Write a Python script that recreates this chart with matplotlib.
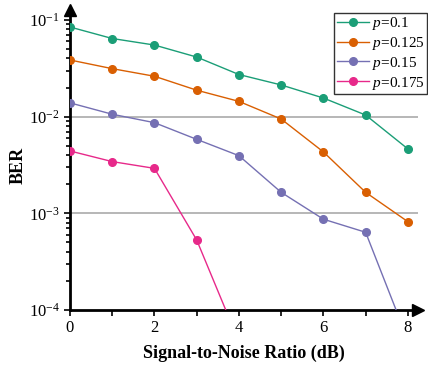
import numpy as np
import matplotlib.pyplot as plt
from matplotlib.ticker import LogLocator, NullFormatter, MultipleLocator

plt.rcParams['font.family'] = 'Liberation Serif'
plt.rcParams['mathtext.fontset'] = 'custom'
plt.rcParams['mathtext.rm'] = 'Liberation Serif'
plt.rcParams['mathtext.it'] = 'Liberation Serif:italic'

snr = [0, 1, 2, 3, 4, 5, 6, 7, 8]
ber_p100 = [0.0847, 0.0644, 0.0551, 0.0414, 0.0273, 0.0213, 0.0156, 0.0104, 0.00464]
ber_p125 = [0.0386, 0.0314, 0.0262, 0.0188, 0.0144, 0.00946, 0.00432, 0.00165, 0.00082]
ber_p150 = [0.0139, 0.0106, 0.00867, 0.00583, 0.00395, 0.00165, 0.00087, 0.000637, 0.000049]
snr_p175 = [0, 1, 2, 3, 4]
ber_p175 = [0.00442, 0.00343, 0.00292, 0.00053, 0.000047]

labels = ['$p$=0.1', '$p$=0.125', '$p$=0.15', '$p$=0.175']
colors = ['#1b9e77', '#d95f02', '#7570b3', '#e7298a']

fig = plt.figure(figsize=(4.28, 3.66), dpi=100)
ax = fig.add_axes([70 / 428, 56 / 366, 348 / 428, 300 / 366])

series = [(snr, ber_p100), (snr, ber_p125), (snr, ber_p150), (snr_p175, ber_p175)]
for (x, y), lab, c in zip(series, labels, colors):
    ax.plot(x, y, '-o', color=c, lw=1.0, ms=5.5, label=lab, zorder=3)

ax.set_yscale('log')
ax.set_ylim(1e-4, 0.127)
ax.set_xlim(0, 8.24)

# horizontal reference lines at the inner decades
for yv in [1e-2, 1e-3]:
    ax.axhline(yv, color='#aaaaaa', lw=1.2, zorder=1)

ax.xaxis.set_major_locator(MultipleLocator(2))
ax.xaxis.set_minor_locator(MultipleLocator(1))
ax.yaxis.set_minor_locator(LogLocator(base=10, subs=np.arange(2, 10), numticks=10))
ax.yaxis.set_minor_formatter(NullFormatter())
ax.set_yticks([1e-4, 1e-3, 1e-2, 1e-1])
ax.set_yticklabels(['$10^{-4}$', '$10^{-3}$', '$10^{-2}$', '$10^{-1}$'])

ax.tick_params(which='major', direction='out', length=4, width=1.2, labelsize=12, colors='black')
ax.tick_params(which='minor', direction='out', length=3, width=1.2)
ax.tick_params(axis='x', which='minor', length=4)

for s in ['top', 'right']:
    ax.spines[s].set_visible(False)
for s in ['left', 'bottom']:
    ax.spines[s].set_linewidth(2.0)

# arrow heads on the axes
ax.plot(1.0, 0, '>', color='black', ms=8, transform=ax.transAxes, clip_on=False)
ax.plot(0, 1.0, '^', color='black', ms=8, transform=ax.transAxes, clip_on=False)

ax.set_xlabel('Signal-to-Noise Ratio (dB)', fontsize=13, fontweight='bold', labelpad=6)
ax.set_ylabel('BER', fontsize=13, fontweight='bold')
ax.yaxis.set_label_coords(-0.124, 0.483)

leg = ax.legend(loc='upper right', bbox_to_anchor=(427 / 428, 1 - 13 / 366),
                bbox_transform=fig.transFigure, fontsize=11, frameon=True,
                fancybox=False, borderpad=0.15, labelspacing=0.18,
                handlelength=2.1, handletextpad=0.2, borderaxespad=0)
leg.get_frame().set_edgecolor('black')
leg.get_frame().set_linewidth(1.0)

fig.savefig('out.png', dpi=100)
